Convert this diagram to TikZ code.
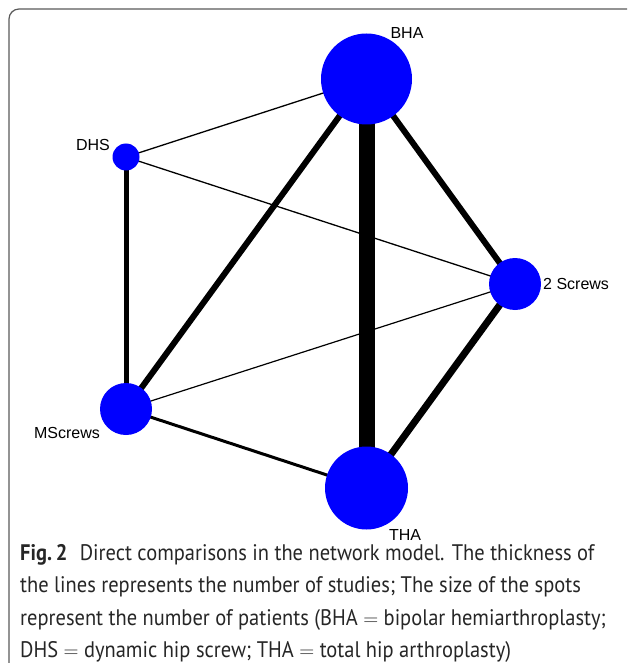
\documentclass[tikz,border=0pt]{standalone}
\usepackage{fontspec}
\setmainfont{PT Sans}[FakeStretch=0.91]
\newfontfamily\labelfont{Liberation Sans}
\usetikzlibrary{backgrounds}

\definecolor{spotblue}{RGB}{0,0,255}
\tikzset{
  spot/.style={circle, fill=spotblue, inner sep=0pt, minimum size=#1},
  lbl/.style={font=\labelfont\fontsize{16}{18}\selectfont, inner sep=0pt},
  link/.style={line width=#1, black},
}

\begin{document}
\begin{tikzpicture}[x=1pt,y=-1pt]

        \useasboundingbox (0,0) rectangle (627,663);
        \begin{scope}
            \clip (0,0) rectangle (627,663);
            \draw[rounded corners=10pt, line width=1.2pt, black!65] (9,9) rectangle (660,675);
        \end{scope}

        % spots
        \node[spot=91pt] (bha) at (366.5,79) {};
        \node[spot=27pt] (dhs) at (126,157) {};
        \node[spot=52pt] (twoscrews) at (515,284) {};
        \node[spot=52pt] (mscrews) at (126,409) {};
        \node[spot=83pt] (tha) at (366.5,488) {};

        \node[lbl] (bhalbl) at (407,33) {BHA};
        \node[lbl] (dhslbl) at (93,145) {DHS};
        \node[lbl, anchor=west] (twoscrewslbl) at (543,284) {2 Screws};
        \node[lbl] (mscrewslbl) at (67,433) {MScrews};
        \node[lbl] (thalbl) at (405,535) {THA};

        % comparisons
        \begin{pgfonlayer}{background}
        \draw[link=16pt] (bha.center) -- (tha.center);
        \draw[link=6pt] (bha.center) -- (mscrews.center);
        \draw[link=6pt] (bha.center) -- (twoscrews.center);
        \draw[link=7pt] (tha.center) -- (twoscrews.center);
        \draw[link=5pt] (dhs.center) -- (mscrews.center);
        \draw[link=3pt] (mscrews.center) -- (tha.center);
        \draw[link=1.3pt] (bha.center) -- (dhs.center);
        \draw[link=1.3pt] (dhs.center) -- (twoscrews.center);
        \draw[link=1.2pt] (mscrews.center) -- (twoscrews.center);
        \end{pgfonlayer}

        \node[anchor=north west, align=left, inner sep=0pt,
              font=\fontsize{22.5}{32.5}\selectfont, text=black!85] (caption) at (20,544)
            {\textbf{Fig.\,2}\hspace{0.55em}Direct comparisons in the network model. The thickness of\\
             the lines represents the number of studies; The size of the spots\\
             represent the number of patients (BHA $=$ bipolar hemiarthroplasty;\\
             DHS $=$ dynamic hip screw; THA $=$ total hip arthroplasty)};

\end{tikzpicture}
\end{document}
